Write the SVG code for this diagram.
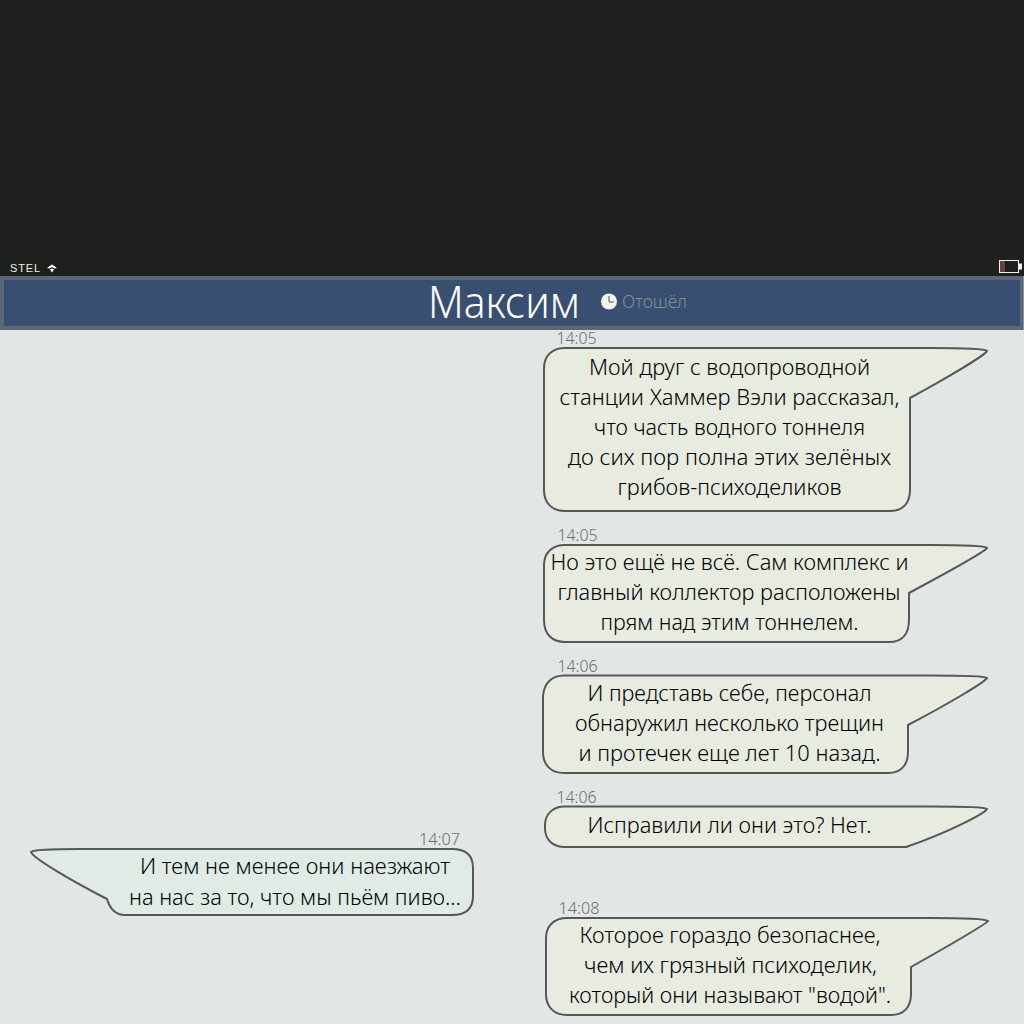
<svg xmlns="http://www.w3.org/2000/svg" width="1024" height="1024" viewBox="0 0 1024 1024">
<style>
text{font-family:"Noto Sans","Open Sans","DejaVu Sans",sans-serif}
.m{font-size:21.5px;fill:#000;text-anchor:middle;font-weight:300}
.t{font-size:16px;fill:#6a6f6f;text-anchor:middle;font-weight:300}
.b{fill:#e8ebe0;stroke:#555856;stroke-width:2}
</style>
<rect width="1024" height="1024" fill="#e2e6e5"/>
<rect width="1024" height="276" fill="#1e201d"/>
<g id="status">
<text x="25" y="272" font-size="11" style="font-family:'Liberation Sans'" fill="#eee" text-anchor="middle" textLength="30">STEL</text>
<path d="M47 268L52 264.500L57 268L54.500 268.500L52 267L49.500 268.500ZM50 269.500L52 268.500L54 269.500L52 272.500Z" fill="#fff"/>
<rect x="999.500" y="260.500" width="19" height="12" fill="#1e201d" stroke="#f0f0f0"/>
<rect x="1000" y="261" width="5" height="11" fill="#68403c"/>
<rect x="1019" y="263.500" width="3" height="6" fill="#f0f0f0"/>
</g>
<g id="header">
<rect x="0" y="276" width="1024" height="54" fill="#5c6776"/>
<rect x="4" y="280" width="1016" height="46" fill="#394f71"/>
<rect x="1023" y="276" width="1" height="54" fill="#8a93a8"/>
<text x="504" y="318" font-size="44" fill="#fff" text-anchor="middle" textLength="152" lengthAdjust="spacingAndGlyphs" font-weight="300">Максим</text>
<circle cx="609" cy="301.500" r="8" fill="#f2f4ee"/>
<path d="M609 296V302H614" fill="none" stroke="#555" stroke-width="1"/>
<text x="654.500" y="308" font-size="18" fill="#848c9c" text-anchor="middle" textLength="65" lengthAdjust="spacingAndGlyphs" font-weight="300">Отошёл</text>
</g>
<g id="msg1">
<path class="b" d="M565 348H930C960 348 985 349 987 351C985 355 950 376 910 398V490C910 503 903 511 890 511H565C552 511 544 503 544 490V368C544 356 552 348 565 348Z"/>
<text class="t" x="576.500" y="344" textLength="40" lengthAdjust="spacingAndGlyphs">14:05</text>
<text class="m" x="729.500" y="374.500" textLength="281" lengthAdjust="spacingAndGlyphs">Мой друг с водопроводной</text>
<text class="m" x="729.500" y="404.500" textLength="340" lengthAdjust="spacingAndGlyphs">станции Хаммер Вэли рассказал,</text>
<text class="m" x="729.500" y="434.500" textLength="271" lengthAdjust="spacingAndGlyphs">что часть водного тоннеля</text>
<text class="m" x="729.500" y="464.500" textLength="323" lengthAdjust="spacingAndGlyphs">до сих пор полна этих зелёных</text>
<text class="m" x="729.500" y="494.500" textLength="224" lengthAdjust="spacingAndGlyphs">грибов-психоделиков</text>
</g>
<g id="msg2">
<path class="b" d="M565 545H930C960 545 985 546 987 548C985 552 950 571 909 593V620C909 634 902 642 889 642H565C552 642 544 634 544 620V565C544 553 552 545 565 545Z"/>
<text class="t" x="577.500" y="541" textLength="40" lengthAdjust="spacingAndGlyphs">14:05</text>
<text class="m" x="729.500" y="569.500" textLength="358" lengthAdjust="spacingAndGlyphs">Но это ещё не всё. Сам комплекс и</text>
<text class="m" x="729" y="599.500" textLength="343" lengthAdjust="spacingAndGlyphs">главный коллектор расположены</text>
<text class="m" x="729.500" y="629.500" textLength="258" lengthAdjust="spacingAndGlyphs">прям над этим тоннелем.</text>
</g>
<g id="msg3">
<path class="b" d="M564 675.500H930C960 675.500 985 676 987 678C985 682 950 703 908 725V752C908 765 901 773 888 773H564C551 773 543 765 543 752V696C544 684 551 675.500 564 675.500Z"/>
<text class="t" x="577.500" y="672" textLength="40" lengthAdjust="spacingAndGlyphs">14:06</text>
<text class="m" x="729.500" y="700.500" textLength="284" lengthAdjust="spacingAndGlyphs">И представь себе, персонал</text>
<text class="m" x="729.500" y="730.500" textLength="309" lengthAdjust="spacingAndGlyphs">обнаружил несколько трещин</text>
<text class="m" x="729.500" y="760.500" textLength="302" lengthAdjust="spacingAndGlyphs">и протечек еще лет 10 назад.</text>
</g>
<g id="msg4">
<path class="b" d="M565 806.500H930C960 806.500 985 807 987 809C985 813 950 832 906 847H565C553 847 545 840 545 828V825C545 814 553 806.500 565 806.500Z"/>
<text class="t" x="576.500" y="803" textLength="40" lengthAdjust="spacingAndGlyphs">14:06</text>
<text class="m" x="729.500" y="833" textLength="284" lengthAdjust="spacingAndGlyphs">Исправили ли они это? Нет.</text>
</g>
<g id="msg5">
<path d="M452 849H80C55 849 33 850 31 852C33 858 70 880 107 899C110 909 116 915 125 915H452C466 915 473 908 473 896V868C473 856 466 849 452 849Z" fill="#e1ebe6" stroke="#555856" stroke-width="2"/>
<text class="t" x="439.500" y="845" textLength="41" lengthAdjust="spacingAndGlyphs">14:07</text>
<text class="m" x="295" y="873.500" textLength="310" lengthAdjust="spacingAndGlyphs">И тем не менее они наезжают</text>
<text class="m" x="295" y="904.500" textLength="332" lengthAdjust="spacingAndGlyphs">на нас за то, что мы пьём пиво…</text>
</g>
<g id="msg6">
<path class="b" d="M567 918H930C960 918 985 919 988 921C985 925 950 945 911 967V994C911 1007 904 1015 891 1015H567C554 1015 546 1007 546 994V938C546 926 554 918 567 918Z"/>
<text class="t" x="579" y="914" textLength="41" lengthAdjust="spacingAndGlyphs">14:08</text>
<text class="m" x="730" y="942.500" textLength="301" lengthAdjust="spacingAndGlyphs">Которое гораздо безопаснее,</text>
<text class="m" x="730.500" y="972.500" textLength="293" lengthAdjust="spacingAndGlyphs">чем их грязный психоделик,</text>
<text class="m" x="730" y="1002.500" textLength="322" lengthAdjust="spacingAndGlyphs">который они называют "водой".</text>
</g>
</svg>
